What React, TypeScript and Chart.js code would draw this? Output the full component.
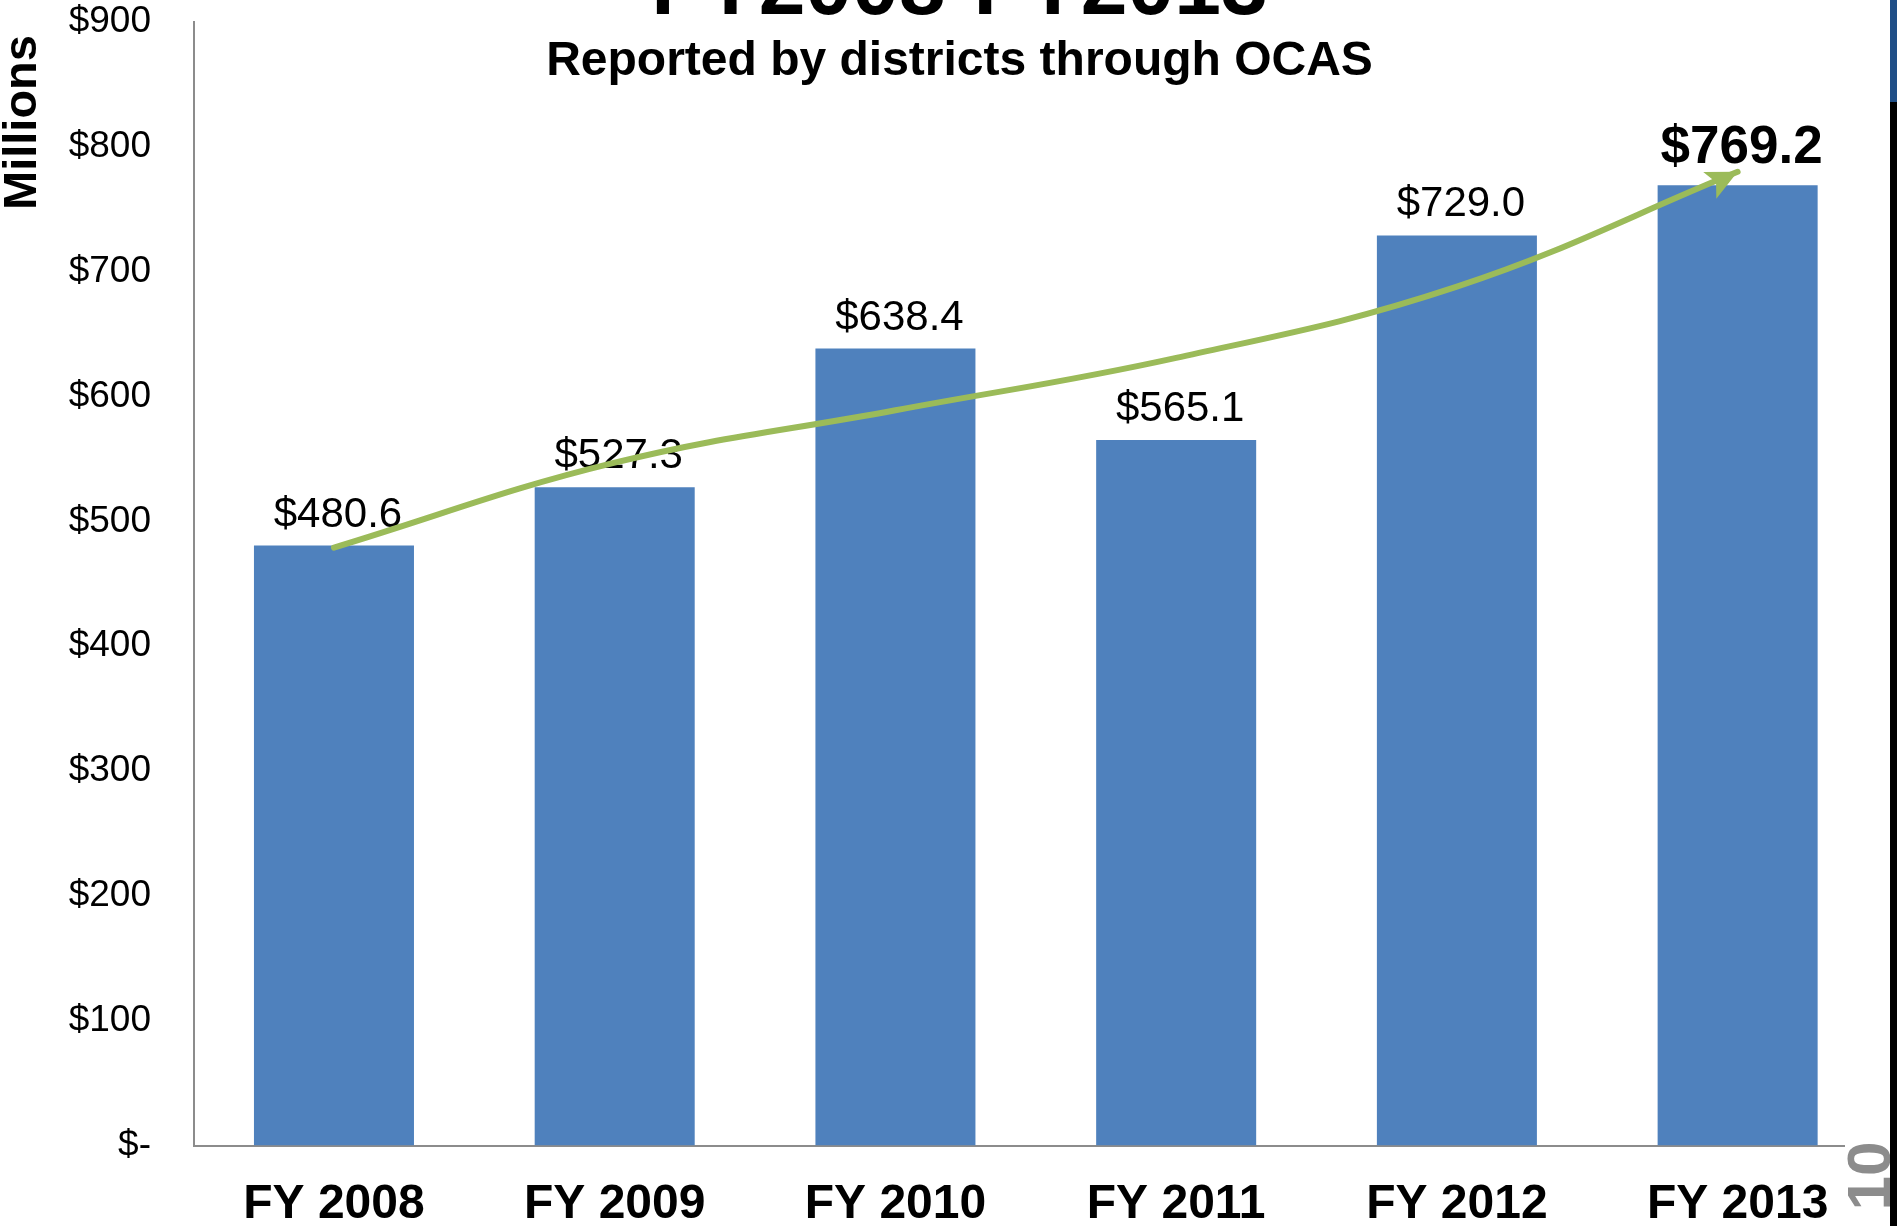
import React, { useEffect, useRef } from 'react';
import { Chart, registerables } from 'chart.js';

Chart.register(...registerables);

const categories = ['FY 2008', 'FY 2009', 'FY 2010', 'FY 2011', 'FY 2012', 'FY 2013'];
const revenues = [480.6, 527.3, 638.4, 565.1, 729.0, 769.2];
const trendValues = [479, 547, 589, 631, 688, 780];
const yMin = 0;
const yMax = 900;
const yStep = 100;
const highlightIndex = 5;

const chartTitle = 'FY2008-FY2013';
const chartSubtitle = 'Reported by districts through OCAS';
const axisTitle = 'Millions';
const pageNumber = '10';

const FONT = '"Liberation Sans", Arial, Helvetica, sans-serif';
const BAR_COLOR = '#4F81BD';
const TREND_COLOR = '#9BBB59';
const AXIS_COLOR = '#8C8C8C';

const W = 1897;
const H = 1226;

const overlayPlugin = {
  id: 'overlay',
  afterDatasetDraw(chart: any, args: any) {
    if (args.index !== 1) return;
    const ctx = chart.ctx;
    const meta = chart.getDatasetMeta(1);
    ctx.save();
    ctx.fillStyle = '#000';
    ctx.textAlign = 'center';
    ctx.textBaseline = 'alphabetic';
    meta.data.forEach((bar: any, i: number) => {
      const hi = i === highlightIndex;
      ctx.font = `${hi ? 'bold 53px' : '42px'} ${FONT}`;
      ctx.fillText('$' + revenues[i].toFixed(1), bar.x + 4, bar.y - (hi ? 22 : 19));
    });
    ctx.restore();
  },
  afterDatasetsDraw(chart: any) {
    const ctx = chart.ctx;
    const pts = chart.getDatasetMeta(0).data;
    const n = pts.length;
    const p5 = pts[n - 1], p4 = pts[n - 2], p3 = pts[n - 3];
    // end tangent from a quadratic through the last three points
    let dx = (3 * p5.x - 4 * p4.x + p3.x) / 2;
    let dy = (3 * p5.y - 4 * p4.y + p3.y) / 2;
    const len = Math.hypot(dx, dy) || 1;
    dx /= len; dy /= len;
    const L = 31, HW = 15;
    const bx = p5.x - dx * L, by = p5.y - dy * L;
    ctx.save();
    ctx.fillStyle = TREND_COLOR;
    ctx.beginPath();
    ctx.moveTo(p5.x, p5.y);
    ctx.lineTo(bx - dy * HW, by + dx * HW);
    ctx.lineTo(bx + dx * 7, by + dy * 7);
    ctx.lineTo(bx + dy * HW, by - dx * HW);
    ctx.closePath();
    ctx.fill();
    ctx.restore();
  },
  afterDraw(chart: any) {
    const ctx = chart.ctx;
    ctx.save();
    ctx.fillStyle = '#000';
    ctx.textAlign = 'center';
    ctx.textBaseline = 'alphabetic';
    ctx.font = `bold 84px ${FONT}`;
    ctx.fillText(chartTitle, 959.5, 14);
    ctx.font = `bold 48px ${FONT}`;
    ctx.fillText(chartSubtitle, 959.5, 75);

    // page number
    ctx.fillStyle = '#fff';
    ctx.fillRect(1845, 1134, 45, 92);
    ctx.translate(1890, 1176);
    ctx.rotate(-Math.PI / 2);
    ctx.fillStyle = '#8C8C8C';
    ctx.font = `bold 62px ${FONT}`;
    ctx.textAlign = 'center';
    ctx.fillText(pageNumber, 0, 0);
    ctx.restore();

    // right edge strip
    ctx.save();
    ctx.fillStyle = '#1F4E86';
    ctx.fillRect(1890, 0, 7, 102);
    ctx.fillStyle = '#000';
    ctx.fillRect(1890, 102, 7, H - 102);
    ctx.restore();
  },
};

export default function App() {
  const ref = useRef<HTMLCanvasElement | null>(null);

  useEffect(() => {
    if (!ref.current) return;
    const chart = new Chart(ref.current, {
      type: 'bar',
      data: {
        labels: categories,
        datasets: [
          {
            type: 'line',
            label: 'Trend',
            data: trendValues,
            borderColor: TREND_COLOR,
            borderWidth: 6,
            pointRadius: 0,
            tension: 0.4,
            fill: false,
            order: 0,
            borderCapStyle: 'round',
          } as any,
          {
            type: 'bar',
            label: 'Revenues',
            data: revenues,
            backgroundColor: BAR_COLOR,
            barPercentage: 0.57,
            categoryPercentage: 1.0,
            order: 1,
          } as any,
        ],
      },
      options: {
        responsive: false,
        animation: false,
        devicePixelRatio: 1,
        layout: { padding: { top: 22, right: 19, left: 0, bottom: 0 } },
        plugins: {
          legend: { display: false },
          tooltip: { enabled: false },
          title: { display: false },
        },
        scales: {
          x: {
            grid: { display: false, drawTicks: false },
            border: { display: true, color: AXIS_COLOR, width: 2 },
            ticks: {
              color: '#000',
              padding: 30,
              font: { family: FONT, size: 48, weight: 'bold' },
              maxRotation: 0,
              autoSkip: false,
            },
            afterFit: (s: any) => {
              s.height = 80.4;
              s.paddingLeft = 0;
              s.paddingRight = 0;
              s.paddingTop = 0;
              s.paddingBottom = 0;
            },
          },
          y: {
            min: yMin,
            max: yMax,
            grid: { display: false, drawTicks: false },
            border: { display: true, color: AXIS_COLOR, width: 2 },
            ticks: {
              stepSize: yStep,
              color: '#000',
              padding: 42.6,
              font: { family: FONT, size: 37, lineHeight: 1 },
              callback: (v: any) => (Number(v) === 0 ? '$-' : '$' + v),
            },
            title: {
              display: true,
              text: axisTitle + ' ',
              align: 'end',
              color: '#000',
              padding: 0,
              font: { family: FONT, size: 47, weight: 'bold', lineHeight: 1 },
            },
            afterFit: (s: any) => {
              s.width = 193.6;
              s.paddingTop = 0;
              s.paddingBottom = 0;
              s.paddingLeft = 0;
              s.paddingRight = 0;
            },
          },
        },
      } as any,
      plugins: [overlayPlugin],
    });
    return () => chart.destroy();
  }, []);

  return (
    <div style={{ position: 'fixed', left: 0, top: 0, width: W, height: H, background: '#fff' }}>
      <canvas ref={ref} width={W} height={H} style={{ display: 'block', width: W, height: H }} />
    </div>
  );
}
